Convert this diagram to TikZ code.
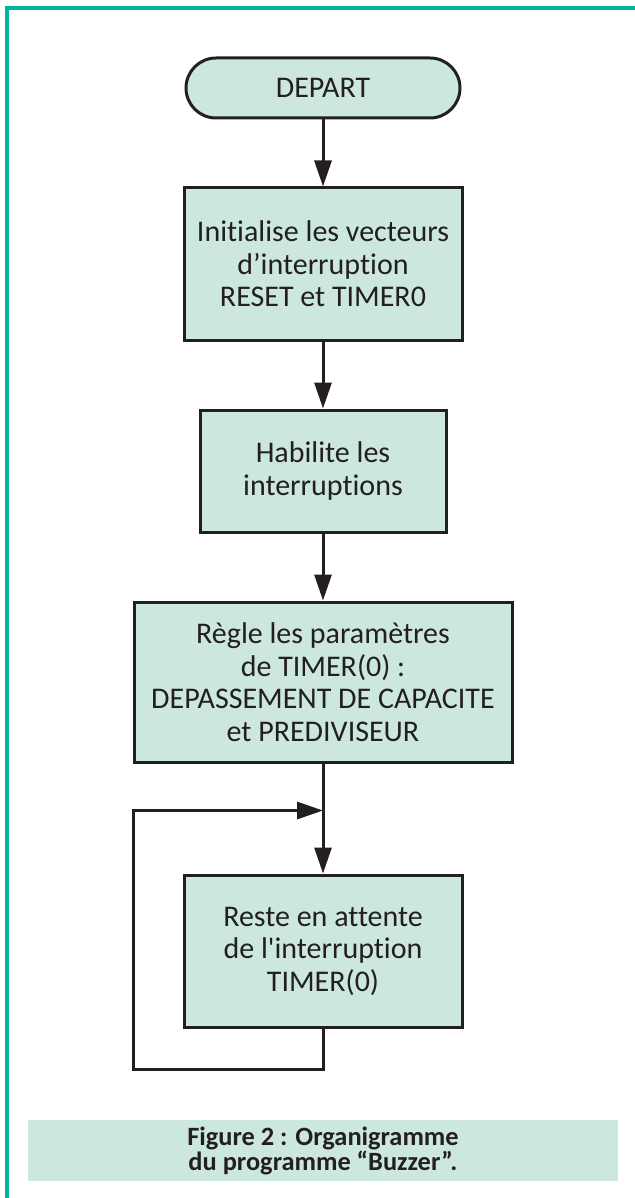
\documentclass[tikz,border=0pt]{standalone}
\usepackage{fontspec}
\setmainfont[Ligatures={NoCommon}]{Carlito}
\usepackage{tikz}
\usetikzlibrary{arrows.meta,positioning,calc}
\definecolor{buzfill}{HTML}{CCE6E0}
\definecolor{buzline}{HTML}{231F20}
\definecolor{buzframe}{HTML}{00B49E}

\begin{document}
\begin{tikzpicture}[font=\fontsize{15pt}{16.25pt}\selectfont, >={Triangle[length=13pt,width=8.5pt]},
  box/.style={draw=buzline, fill=buzfill, line width=1.5pt, align=center, text=buzline, inner sep=2pt},
  term/.style={box, rounded corners=15pt, minimum width=137pt, minimum height=30pt},
  flow/.style={->, buzline, line width=1.5pt},
  capt/.style={fill=buzfill, align=center, text=buzline, font=\bfseries\fontsize{13.2pt}{12.5pt}\selectfont, minimum width=295pt, minimum height=30.5pt}]
  \useasboundingbox (0,0) rectangle (317.5pt,-599pt);
  \draw[buzframe, line width=2pt] (3.5pt,-599pt) |- (317.5pt,-4pt);
  \node[term] (start) at (161.5pt,-44pt) {DEPART};
  \node[box, below=33.5pt of start, minimum width=139pt, minimum height=76pt] (init) {Initialise les vecteurs\\d’interruption\\RESET et TIMER0};
  \node[box, below=33.5pt of init, minimum width=123pt, minimum height=61pt] (enable) {Habilite les\\interruptions};
  \node[box, below=33.5pt of enable, minimum width=189pt, minimum height=80pt] (timer) {Règle les paramètres\\de TIMER(0) :\\DEPASSEMENT DE CAPACITE\\et PREDIVISEUR};
  \node[box, below=55pt of timer, minimum width=139pt, minimum height=76pt] (wait) {Reste en attente\\de l\textquotesingle interruption\\TIMER(0)};
  % boucle d'attente
  \coordinate (join) at ([yshift=-23.5pt]timer.south);
  \coordinate (back) at ([yshift=-20.5pt]wait.south);
  \coordinate (edge) at (66.5pt,0);
  \draw[flow] (start) -- (init);
  \draw[flow] (init) -- (enable);
  \draw[flow] (enable) -- (timer);
  \draw[flow] (timer) -- (wait);
  \draw[flow] (wait.south) -- (back) -| (edge |- join) -- (join);
  \node[capt] (cap) at (161.5pt,-575.25pt) {Figure 2 : Organigramme\\du programme “Buzzer”.};
\end{tikzpicture}
\end{document}
